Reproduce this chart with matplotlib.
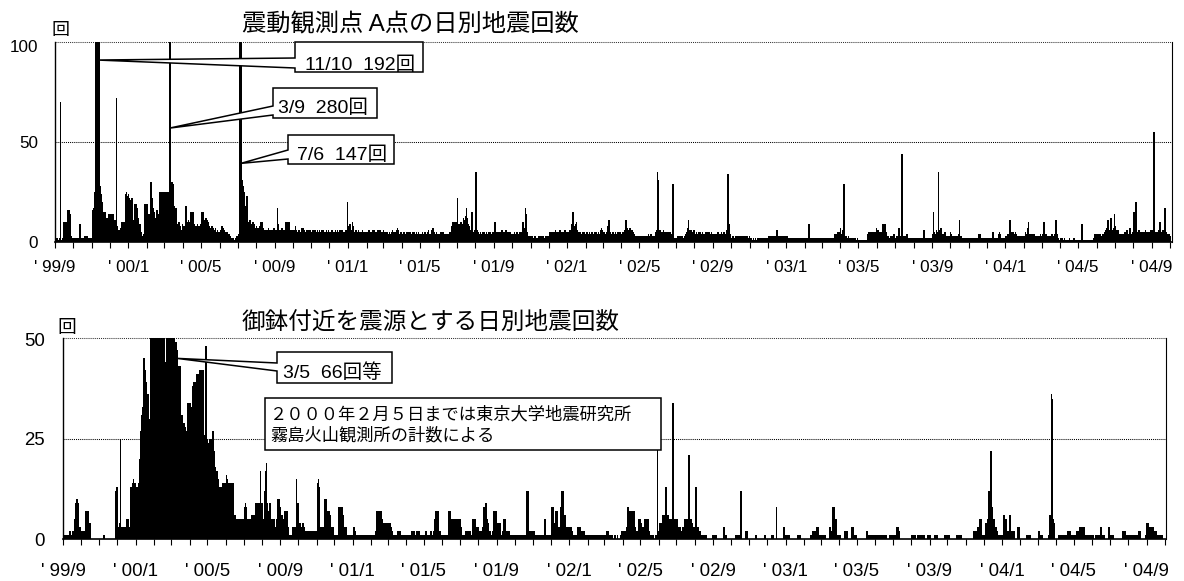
import numpy as np
import pandas as pd
import matplotlib
matplotlib.use("Agg")
import matplotlib.pyplot as plt
import matplotlib.dates as mdates
import matplotlib.transforms as mtransforms
from matplotlib.patches import Polygon, Rectangle
from matplotlib.ticker import FixedLocator, FixedFormatter

plt.rcParams["font.family"] = ["Liberation Sans", "Noto Sans CJK JP"]

# ---------------------------------------------------------------------------
# Daily earthquake counts, one list per month (Sep 1999 - Sep 2004)
# ---------------------------------------------------------------------------

# Station A (震動観測点 A点)
station_a_1999 = [  # Sep - Dec
    [1, 2, 2, 1, 0, 1, 2, 1, 70, 1, 0, 1, 2, 3, 10, 6, 9, 10, 8, 5, 16, 12, 16, 9, 14, 3, 2, 1, 2, 2],
    [2, 1, 2, 1, 2, 1, 2, 1, 2, 1, 9, 1, 2, 1, 2, 2, 1, 2, 1, 3, 3, 2, 3, 2, 2, 1, 2, 1, 2, 1, 2],
    [2, 16, 17, 6, 25, 120, 160, 145, 150, 192, 130, 110, 31, 28, 24, 22, 20, 16, 15, 14, 12, 15, 11, 10, 12, 9, 11, 10, 14, 10],
    [11, 14, 13, 12, 14, 12, 10, 9, 11, 6, 72, 8, 6, 5, 6, 5, 6, 5, 7, 10, 9, 10, 6, 8, 10, 12, 24, 25, 23, 20, 24],
]
station_a_2000 = [
    [22, 20, 21, 16, 12, 22, 10, 9, 11, 19, 18, 13, 19, 17, 8, 12, 10, 8, 9, 4, 3, 5, 3, 2, 3, 4, 3, 19, 18, 12, 19],
    [16, 8, 14, 6, 12, 15, 30, 22, 16, 17, 12, 15, 10, 9, 12, 8, 16, 14, 7, 10, 25, 24, 25, 20, 25, 22, 25, 24, 14],
    [25, 24, 20, 25, 14, 12, 25, 24, 280, 25, 20, 15, 30, 29, 22, 18, 10, 8, 17, 10, 9, 8, 6, 10, 7, 5, 8, 6, 5, 9, 6],
    [5, 8, 6, 9, 18, 12, 10, 7, 11, 9, 6, 10, 15, 14, 8, 15, 12, 7, 9, 6, 8, 5, 7, 9, 6, 8, 5, 4, 7, 9],
    [15, 13, 15, 9, 11, 10, 8, 12, 9, 11, 7, 10, 6, 8, 7, 5, 7, 8, 6, 7, 5, 6, 4, 7, 5, 3, 6, 5, 4, 3, 5],
    [5, 6, 4, 8, 7, 5, 6, 4, 5, 3, 4, 5, 3, 2, 4, 3, 2, 3, 1, 2, 1, 2, 1, 0, 1, 2, 1, 2, 3, 1],
    [2, 4, 52, 101, 112, 147, 31, 30, 28, 25, 24, 18, 15, 14, 23, 22, 10, 9, 8, 11, 7, 9, 6, 8, 10, 5, 9, 6, 7, 5, 8],
    [6, 5, 7, 6, 8, 5, 10, 9, 10, 6, 7, 5, 6, 5, 6, 4, 5, 6, 5, 7, 6, 4, 5, 6, 5, 4, 6, 5, 7, 6, 5],
    [5, 6, 4, 17, 9, 5, 6, 5, 4, 6, 5, 7, 5, 6, 4, 6, 5, 10, 9, 10, 10, 8, 10, 6, 5, 4, 6, 5, 5, 6],
    [4, 5, 6, 8, 5, 6, 5, 4, 5, 6, 4, 5, 5, 7, 6, 7, 7, 4, 6, 5, 5, 4, 6, 5, 6, 4, 5, 6, 5, 4, 5],
    [5, 6, 4, 5, 4, 6, 5, 4, 5, 6, 4, 5, 6, 5, 4, 5, 6, 4, 6, 5, 4, 5, 4, 5, 6, 5, 4, 6, 4, 5],
    [4, 5, 4, 6, 5, 5, 4, 5, 4, 6, 4, 5, 6, 5, 4, 4, 6, 5, 4, 5, 6, 5, 4, 5, 4, 5, 6, 4, 5, 20, 6],
]
station_a_2001 = [
    [8, 9, 7, 9, 6, 5, 10, 8, 6, 5, 4, 5, 6, 4, 5, 4, 6, 5, 4, 5, 3, 5, 4, 6, 4, 5, 4, 3, 5, 4, 5],
    [5, 4, 5, 6, 5, 4, 5, 3, 4, 6, 5, 4, 6, 4, 5, 4, 5, 4, 6, 5, 3, 6, 4, 5, 4, 5, 4, 6],
    [4, 5, 4, 3, 4, 5, 4, 3, 4, 5, 4, 3, 5, 4, 6, 4, 5, 3, 5, 4, 4, 6, 7, 5, 6, 4, 3, 4, 5, 4, 4],
    [3, 4, 5, 4, 3, 4, 5, 4, 5, 4, 5, 3, 5, 4, 3, 4, 5, 4, 3, 5, 4, 3, 4, 5, 3, 4, 5, 3, 4, 4],
    [3, 4, 3, 5, 4, 3, 4, 5, 3, 4, 4, 5, 5, 6, 4, 4, 3, 4, 5, 6, 7, 7, 5, 4, 3, 4, 5, 3, 4, 3, 4],
    [3, 4, 5, 4, 5, 4, 5, 4, 3, 4, 3, 4, 3, 2, 4, 3, 4, 5, 4, 5, 6, 8, 9, 10, 9, 10, 8, 9, 10, 6],
    [22, 8, 5, 9, 6, 8, 10, 6, 9, 8, 12, 9, 11, 13, 10, 17, 12, 9, 8, 8, 7, 6, 5, 11, 15, 9, 5, 5, 4, 6, 5],
    [35, 6, 4, 5, 3, 4, 3, 5, 4, 3, 4, 5, 3, 4, 5, 3, 4, 5, 4, 3, 4, 5, 3, 4, 5, 3, 4, 5, 4, 3, 5],
    [10, 4, 5, 4, 5, 4, 4, 5, 4, 5, 4, 5, 6, 5, 4, 5, 4, 5, 4, 6, 5, 4, 5, 4, 5, 4, 5, 4, 3, 4],
    [4, 3, 4, 5, 4, 3, 4, 5, 4, 3, 4, 5, 4, 3, 5, 4, 6, 10, 8, 7, 5, 17, 14, 6, 5, 3, 2, 3, 2, 3, 2],
    [2, 3, 2, 1, 2, 3, 2, 3, 2, 2, 1, 2, 3, 2, 3, 2, 1, 2, 3, 2, 3, 2, 1, 2, 3, 2, 3, 2, 3, 2],
    [4, 5, 4, 5, 4, 5, 4, 5, 4, 5, 6, 5, 4, 5, 4, 5, 4, 5, 6, 5, 4, 5, 4, 5, 4, 5, 6, 4, 5, 4, 5],
]
station_a_2002 = [
    [5, 4, 5, 6, 5, 4, 7, 9, 15, 12, 8, 6, 7, 9, 10, 6, 5, 4, 5, 3, 4, 5, 4, 4, 5, 3, 4, 5, 4, 3, 4],
    [4, 5, 4, 3, 4, 5, 4, 3, 4, 5, 4, 3, 4, 5, 4, 4, 5, 4, 3, 4, 5, 4, 3, 6, 5, 7, 6, 5],
    [4, 5, 4, 3, 4, 5, 4, 5, 8, 11, 6, 4, 5, 4, 3, 4, 5, 4, 3, 4, 5, 4, 3, 4, 5, 4, 3, 4, 5, 4, 4],
    [4, 5, 4, 5, 6, 5, 4, 11, 6, 7, 6, 5, 6, 7, 6, 5, 6, 6, 5, 4, 3, 4, 3, 2, 3, 2, 3, 3, 2, 3],
    [3, 2, 3, 3, 2, 3, 2, 3, 3, 2, 3, 3, 2, 3, 4, 3, 2, 3, 4, 3, 3, 2, 3, 2, 3, 3, 4, 5, 6, 35, 6],
    [31, 5, 6, 5, 5, 4, 5, 5, 6, 5, 5, 4, 5, 5, 4, 5, 5, 4, 5, 4, 5, 3, 4, 2, 29, 3, 2, 2, 1, 2],
    [2, 2, 3, 2, 3, 2, 2, 3, 2, 2, 3, 2, 2, 3, 2, 3, 4, 5, 6, 7, 11, 5, 6, 4, 5, 6, 5, 4, 5, 6, 4],
    [3, 4, 5, 3, 4, 4, 5, 3, 4, 5, 3, 4, 5, 3, 4, 4, 3, 4, 5, 3, 4, 5, 3, 4, 5, 3, 4, 5, 4, 3, 4],
    [4, 3, 4, 3, 4, 3, 4, 5, 3, 4, 3, 4, 3, 5, 4, 3, 4, 5, 4, 3, 4, 5, 6, 5, 34, 7, 9, 4, 3, 2],
    [2, 3, 2, 3, 2, 2, 3, 2, 3, 2, 3, 2, 3, 2, 3, 2, 2, 3, 2, 2, 3, 2, 3, 3, 2, 2, 3, 2, 2, 3, 1],
    [1, 2, 1, 1, 1, 2, 1, 1, 2, 1, 1, 1, 2, 1, 1, 1, 2, 1, 1, 2, 1, 1, 2, 1, 1, 1, 2, 1, 1, 2],
    [2, 3, 2, 3, 2, 3, 2, 3, 2, 3, 2, 3, 2, 3, 6, 3, 2, 3, 2, 3, 2, 3, 2, 3, 2, 3, 2, 3, 2, 3, 3],
]
station_a_2003 = [
    [3, 2, 1, 2, 2, 1, 2, 2, 1, 2, 2, 1, 2, 2, 1, 1, 2, 1, 2, 1, 2, 2, 1, 2, 1, 2, 1, 2, 1, 2, 2],
    [2, 1, 2, 2, 1, 9, 2, 1, 2, 1, 2, 1, 2, 1, 2, 1, 1, 2, 1, 2, 1, 2, 2, 1, 2, 1, 2, 1],
    [1, 2, 1, 2, 1, 2, 1, 2, 1, 2, 1, 2, 1, 2, 1, 2, 1, 2, 1, 2, 2, 4, 3, 4, 4, 3, 5, 4, 4, 5, 7],
    [3, 4, 5, 6, 4, 29, 3, 2, 2, 3, 2, 2, 3, 2, 2, 1, 2, 1, 2, 1, 1, 2, 1, 1, 2, 1, 1, 2, 1, 1],
    [1, 0, 1, 0, 0, 1, 0, 1, 0, 0, 1, 0, 0, 1, 0, 4, 5, 5, 4, 5, 4, 5, 5, 4, 5, 4, 5, 3, 4, 7, 5],
    [6, 5, 4, 5, 4, 5, 3, 4, 5, 9, 8, 9, 7, 9, 5, 3, 2, 2, 3, 2, 2, 3, 2, 2, 3, 2, 2, 4, 3, 2],
    [2, 3, 2, 3, 2, 7, 6, 3, 2, 3, 44, 3, 2, 3, 2, 3, 2, 3, 4, 4, 2, 1, 2, 2, 1, 2, 1, 2, 1, 2, 2],
    [2, 1, 2, 1, 2, 1, 2, 1, 2, 1, 2, 1, 2, 1, 2, 3, 6, 2, 1, 2, 1, 2, 1, 2, 1, 2, 1, 2, 1, 2, 3],
    [4, 15, 5, 4, 3, 4, 6, 5, 4, 35, 5, 4, 6, 7, 5, 4, 3, 3, 4, 3, 5, 4, 3, 2, 3, 2, 3, 2, 3, 5],
    [4, 3, 2, 3, 2, 3, 2, 3, 2, 3, 2, 3, 2, 4, 11, 3, 2, 3, 2, 1, 2, 1, 2, 1, 2, 1, 2, 1, 2, 1, 2],
    [2, 1, 2, 1, 2, 1, 2, 1, 2, 1, 2, 1, 2, 1, 2, 3, 4, 4, 3, 2, 1, 2, 1, 2, 1, 2, 1, 2, 1, 2],
    [2, 1, 2, 1, 2, 1, 2, 1, 3, 5, 4, 2, 1, 2, 1, 2, 1, 2, 3, 4, 5, 4, 2, 1, 2, 1, 2, 1, 2, 1, 2],
]
station_a_2004 = [  # Jan - Sep
    [3, 2, 3, 4, 3, 4, 11, 8, 4, 5, 4, 5, 4, 3, 4, 5, 3, 4, 3, 2, 3, 2, 3, 2, 3, 2, 3, 2, 3, 2, 3],
    [3, 5, 4, 3, 4, 7, 10, 4, 3, 4, 3, 4, 3, 4, 3, 2, 4, 3, 2, 3, 2, 3, 2, 3, 2, 3, 4, 3, 2],
    [3, 4, 5, 10, 4, 3, 4, 3, 2, 3, 2, 3, 2, 3, 2, 3, 4, 3, 2, 3, 4, 3, 5, 11, 4, 2, 1, 2, 1, 1, 2],
    [1, 1, 2, 1, 1, 1, 2, 1, 1, 1, 0, 1, 1, 1, 2, 1, 1, 0, 1, 1, 1, 1, 2, 1, 1, 0, 1, 1, 1, 1],
    [1, 1, 0, 1, 1, 9, 1, 1, 0, 1, 1, 1, 0, 1, 1, 1, 0, 1, 1, 1, 1, 0, 1, 1, 1, 2, 4, 4, 4, 3, 4],
    [4, 4, 3, 4, 4, 4, 3, 2, 3, 4, 3, 4, 5, 5, 6, 6, 7, 11, 7, 6, 5, 6, 12, 7, 6, 5, 6, 7, 14, 8],
    [5, 4, 6, 5, 6, 5, 4, 3, 4, 3, 4, 3, 4, 3, 4, 5, 4, 5, 6, 6, 4, 3, 4, 5, 7, 4, 3, 4, 5, 5, 6],
    [15, 8, 12, 20, 7, 5, 4, 5, 6, 5, 4, 5, 4, 5, 4, 5, 4, 5, 4, 6, 5, 4, 5, 4, 5, 4, 5, 6, 4, 5, 6],
    [4, 5, 55, 6, 4, 5, 4, 5, 4, 5, 6, 5, 10, 4, 5, 4, 5, 6, 4, 5, 17, 4, 5, 4, 3, 4, 4, 3, 4, 3],
]

# Events located near Ohachi crater (御鉢付近を震源とする地震)
ohachi_1999 = [  # Sep - Dec
    [0, 0, 1, 1, 1, 1, 1, 1, 1, 2, 2, 1, 1, 1, 2, 2, 2, 2, 5, 5, 9, 9, 10, 9, 3, 3, 3, 2, 3, 2],
    [2, 2, 2, 2, 2, 2, 7, 7, 7, 6, 7, 7, 4, 3, 4, 0, 0, 0, 0, 0, 0, 0, 0, 0, 0, 0, 0, 0, 0, 0, 0],
    [0, 0, 0, 0, 0, 0, 1, 1, 0, 0, 0, 0, 0, 0, 0, 0, 0, 0, 0, 0, 0, 0, 0, 0, 0, 0, 0, 12, 13, 3],
    [3, 2, 3, 4, 25, 3, 3, 2, 3, 3, 2, 3, 3, 2, 5, 5, 4, 5, 3, 3, 3, 12, 13, 12, 10, 14, 15, 13, 12, 14, 12],
]
ohachi_2000 = [
    [12, 13, 11, 12, 14, 15, 20, 26, 27, 31, 30, 33, 44, 45, 42, 38, 37, 39, 36, 35, 36, 27, 26, 30, 52, 58, 61, 48, 55, 64, 57],
    [55, 48, 62, 58, 51, 66, 45, 52, 60, 57, 49, 63, 55, 50, 58, 61, 45, 42, 40, 44, 43, 55, 59, 52, 61, 66, 58, 63, 60],
    [62, 58, 64, 60, 66, 48, 46, 49, 47, 44, 43, 42, 38, 43, 36, 31, 30, 27, 31, 28, 29, 24, 28, 22, 27, 3, 20, 34, 33, 30, 34],
    [34, 33, 17, 15, 38, 37, 39, 35, 39, 38, 30, 41, 36, 40, 41, 39, 42, 41, 38, 42, 40, 42, 26, 22, 26, 24, 48, 28, 24, 25],
    [23, 24, 20, 25, 22, 24, 25, 21, 27, 26, 22, 18, 17, 16, 17, 14, 17, 15, 13, 12, 13, 11, 13, 10, 12, 14, 13, 14, 10, 12, 14],
    [16, 15, 14, 13, 14, 12, 14, 11, 13, 14, 12, 14, 6, 5, 6, 4, 5, 5, 4, 5, 3, 5, 4, 5, 3, 5, 4, 5, 3, 5],
    [6, 8, 9, 8, 5, 4, 5, 5, 4, 5, 3, 5, 6, 6, 5, 6, 6, 5, 6, 4, 9, 8, 9, 8, 9, 6, 9, 17, 9, 6, 9],
    [5, 3, 5, 9, 12, 17, 19, 9, 7, 5, 7, 6, 9, 8, 5, 4, 5, 3, 5, 4, 5, 3, 2, 3, 5, 8, 10, 9, 10, 8, 5],
    [5, 6, 4, 5, 3, 5, 2, 7, 6, 7, 5, 7, 3, 1, 1, 1, 0, 1, 1, 1, 3, 3, 3, 2, 3, 1, 15, 9, 3, 9],
    [3, 3, 4, 3, 3, 3, 3, 4, 2, 3, 2, 2, 2, 1, 2, 2, 1, 2, 2, 2, 1, 1, 2, 1, 1, 2, 1, 1, 2, 1, 2],
    [12, 14, 15, 13, 6, 3, 3, 2, 3, 3, 2, 3, 9, 10, 8, 10, 6, 7, 7, 5, 7, 6, 3, 3, 2, 3, 3, 2, 1, 1],
    [1, 1, 0, 1, 1, 1, 3, 8, 6, 8, 7, 5, 8, 6, 3, 3, 2, 3, 3, 1, 1, 1, 0, 1, 1, 1, 0, 1, 1, 1, 1],
]
ohachi_2001 = [
    [1, 3, 3, 2, 1, 1, 1, 1, 0, 1, 1, 1, 1, 1, 1, 0, 1, 1, 1, 1, 1, 1, 1, 1, 1, 0, 1, 1, 1, 1, 1],
    [1, 1, 1, 1, 1, 0, 1, 2, 7, 6, 7, 5, 7, 6, 4, 7, 5, 5, 3, 2, 4, 3, 4, 3, 4, 4, 2, 4],
    [4, 3, 4, 4, 3, 2, 2, 1, 1, 1, 1, 1, 0, 1, 1, 1, 2, 2, 2, 1, 2, 1, 1, 0, 1, 1, 0, 1, 1, 0, 1],
    [1, 0, 1, 1, 1, 0, 1, 1, 2, 2, 2, 1, 2, 1, 1, 1, 2, 2, 1, 2, 2, 1, 1, 0, 1, 1, 0, 1, 1, 1],
    [1, 1, 2, 1, 1, 1, 0, 1, 1, 1, 1, 2, 1, 1, 1, 2, 1, 5, 4, 7, 6, 7, 5, 7, 2, 2, 2, 1, 0, 1, 1],
    [1, 1, 0, 1, 1, 1, 1, 1, 1, 1, 7, 6, 7, 5, 4, 5, 5, 5, 4, 5, 5, 5, 4, 5, 4, 5, 5, 4, 3, 5],
    [3, 2, 1, 1, 1, 1, 1, 0, 2, 2, 2, 1, 2, 2, 2, 2, 1, 1, 1, 0, 1, 5, 4, 5, 5, 3, 3, 2, 3, 3, 2],
    [2, 2, 1, 2, 2, 2, 3, 8, 6, 8, 7, 9, 8, 5, 4, 4, 3, 2, 2, 2, 1, 1, 1, 2, 7, 6, 7, 5, 7, 6, 3],
    [4, 3, 4, 3, 4, 2, 1, 1, 2, 1, 5, 4, 5, 5, 2, 2, 2, 1, 2, 2, 1, 1, 1, 1, 0, 1, 1, 1, 0, 1],
    [1, 0, 0, 1, 1, 1, 1, 1, 1, 1, 0, 0, 1, 0, 0, 1, 1, 0, 0, 1, 12, 10, 12, 2, 2, 1, 2, 2, 2, 1, 2],
    [2, 2, 1, 1, 1, 1, 1, 1, 1, 1, 1, 1, 0, 0, 1, 0, 0, 1, 0, 5, 4, 1, 1, 1, 1, 0, 1, 1, 1, 0],
    [2, 8, 7, 8, 4, 3, 4, 7, 6, 7, 5, 3, 3, 3, 2, 3, 8, 12, 11, 12, 6, 6, 5, 6, 3, 3, 2, 3, 3, 2, 3],
]
ohachi_2002 = [
    [3, 3, 3, 2, 1, 1, 1, 1, 1, 1, 1, 0, 1, 3, 3, 3, 3, 3, 2, 2, 2, 2, 2, 2, 2, 1, 1, 1, 0, 1, 1],
    [1, 1, 0, 1, 1, 1, 0, 1, 1, 1, 1, 0, 1, 1, 1, 1, 1, 0, 1, 1, 1, 0, 0, 1, 1, 0, 1, 1],
    [0, 1, 1, 2, 2, 2, 1, 1, 1, 1, 1, 1, 1, 1, 0, 0, 0, 1, 0, 0, 0, 1, 0, 0, 0, 0, 0, 1, 2, 2, 2],
    [2, 2, 1, 1, 1, 2, 3, 8, 7, 8, 7, 6, 7, 7, 7, 6, 7, 7, 6, 7, 3, 2, 2, 2, 2, 2, 5, 5, 4, 5],
    [4, 3, 3, 3, 3, 3, 3, 5, 5, 4, 5, 5, 5, 2, 1, 1, 1, 1, 1, 1, 1, 0, 0, 0, 1, 0, 0, 1, 30, 0, 2],
    [3, 4, 3, 4, 3, 5, 6, 6, 5, 6, 5, 13, 6, 5, 6, 6, 5, 5, 5, 4, 5, 4, 5, 34, 5, 4, 5, 5, 4, 5],
    [5, 3, 3, 3, 3, 3, 2, 1, 2, 3, 3, 3, 3, 5, 5, 5, 5, 4, 4, 5, 21, 5, 5, 5, 5, 4, 2, 3, 3, 2, 3],
    [3, 13, 3, 3, 3, 2, 2, 2, 1, 1, 1, 1, 1, 1, 1, 1, 1, 1, 0, 0, 0, 0, 0, 0, 0, 0, 0, 0, 0, 1, 1],
    [1, 1, 1, 1, 1, 0, 0, 0, 0, 0, 0, 0, 0, 0, 0, 0, 1, 3, 1, 1, 1, 1, 0, 0, 0, 0, 0, 0, 0, 0],
    [0, 0, 0, 0, 0, 0, 0, 1, 1, 1, 1, 1, 1, 0, 0, 12, 0, 0, 0, 0, 0, 0, 0, 2, 2, 2, 2, 0, 0, 0, 0],
    [0, 0, 0, 0, 0, 0, 0, 0, 0, 0, 1, 0, 0, 0, 0, 0, 0, 0, 0, 0, 0, 0, 0, 0, 0, 1, 0, 0, 0, 0],
    [0, 0, 0, 0, 0, 0, 0, 1, 1, 0, 0, 0, 0, 0, 8, 0, 0, 0, 0, 0, 0, 0, 0, 0, 0, 0, 0, 3, 3, 1, 1],
]
ohachi_2003 = [
    [1, 1, 1, 1, 1, 1, 0, 0, 0, 0, 0, 0, 0, 0, 0, 0, 0, 0, 0, 0, 1, 1, 1, 1, 0, 0, 0, 0, 0, 0, 0],
    [0, 0, 0, 0, 0, 0, 0, 0, 0, 0, 0, 1, 1, 1, 2, 2, 2, 1, 2, 1, 1, 3, 3, 3, 1, 1, 1, 1],
    [1, 1, 1, 1, 1, 1, 1, 0, 0, 0, 0, 0, 0, 0, 3, 3, 1, 1, 2, 3, 8, 8, 5, 5, 2, 5, 1, 1, 1, 1, 1],
    [1, 0, 0, 0, 0, 0, 0, 0, 0, 2, 2, 2, 2, 2, 0, 0, 0, 0, 0, 0, 0, 3, 3, 1, 1, 1, 1, 1, 0, 0],
    [0, 0, 0, 0, 0, 0, 0, 0, 0, 0, 0, 0, 0, 0, 0, 2, 2, 1, 1, 1, 1, 0, 1, 1, 1, 1, 0, 1, 1, 1, 1],
    [1, 1, 0, 1, 1, 1, 1, 0, 1, 1, 1, 1, 1, 0, 1, 1, 1, 1, 0, 0, 0, 0, 0, 1, 1, 0, 0, 1, 1, 1],
    [1, 1, 1, 0, 0, 0, 3, 3, 2, 2, 2, 0, 0, 0, 0, 0, 0, 0, 0, 0, 0, 0, 0, 0, 0, 0, 0, 0, 0, 0, 0],
    [1, 1, 1, 1, 1, 1, 0, 0, 0, 1, 1, 1, 1, 1, 0, 0, 0, 1, 1, 1, 1, 1, 0, 0, 0, 0, 1, 1, 1, 1, 1],
    [0, 0, 0, 0, 0, 0, 0, 1, 1, 1, 1, 1, 1, 0, 0, 0, 0, 0, 0, 0, 0, 0, 0, 0, 1, 1, 1, 1, 1, 1],
    [1, 1, 1, 0, 0, 0, 0, 0, 0, 0, 0, 0, 0, 0, 0, 1, 1, 1, 1, 1, 1, 1, 1, 0, 0, 0, 0, 0, 0, 0, 0],
    [0, 0, 0, 0, 0, 0, 0, 0, 0, 0, 0, 0, 2, 2, 2, 2, 2, 2, 3, 3, 3, 3, 5, 5, 4, 5, 1, 1, 1, 1],
    [1, 1, 1, 4, 4, 2, 5, 12, 11, 12, 21, 22, 22, 8, 5, 5, 4, 5, 3, 3, 3, 2, 2, 1, 1, 1, 1, 1, 1, 1, 1],
]
ohachi_2004 = [  # Jan - Sep
    [1, 1, 6, 6, 5, 5, 2, 2, 2, 2, 2, 6, 6, 6, 2, 2, 2, 2, 2, 2, 0, 0, 0, 0, 0, 0, 3, 3, 0, 0, 0],
    [0, 0, 0, 0, 0, 0, 0, 0, 0, 1, 1, 1, 1, 1, 1, 1, 0, 0, 0, 0, 0, 0, 0, 0, 0, 0, 0, 0, 0],
    [2, 2, 1, 1, 1, 1, 1, 1, 0, 0, 0, 0, 0, 0, 0, 0, 0, 0, 1, 6, 6, 2, 36, 35, 5, 5, 4, 0, 0, 0, 0],
    [0, 0, 0, 0, 1, 1, 1, 1, 1, 1, 1, 1, 1, 1, 1, 1, 1, 1, 2, 2, 2, 2, 2, 1, 1, 1, 1, 1, 1, 1],
    [1, 1, 1, 2, 2, 2, 2, 2, 2, 3, 3, 3, 3, 3, 3, 2, 3, 3, 1, 1, 1, 1, 1, 1, 1, 1, 1, 1, 1, 1, 1],
    [1, 1, 0, 0, 0, 1, 1, 1, 1, 1, 1, 1, 1, 1, 3, 1, 1, 1, 1, 1, 0, 0, 0, 0, 0, 0, 0, 3, 1, 1],
    [1, 1, 1, 1, 1, 0, 0, 0, 0, 0, 0, 0, 0, 0, 0, 0, 0, 0, 0, 0, 0, 2, 2, 2, 2, 1, 1, 1, 1, 1, 1],
    [1, 1, 1, 1, 1, 1, 1, 1, 1, 1, 1, 1, 1, 1, 0, 0, 0, 2, 2, 2, 0, 0, 0, 0, 0, 0, 0, 0, 1, 4, 4],
    [3, 4, 3, 3, 3, 3, 2, 3, 3, 3, 3, 2, 2, 2, 2, 2, 1, 1, 1, 1, 1, 1, 1, 1, 1, 0, 0, 0, 0, 0],
]

# Month labels shown on the time axis
label_months = [1, 5, 9]


def daily_series(blocks):
    """Turn (year, first month, month lists) blocks into dates and counts."""
    dates, counts = [], []
    for year, first_month, months in blocks:
        for i, vals in enumerate(months):
            start = pd.Timestamp(year=year, month=first_month + i, day=1)
            if len(vals) != start.days_in_month:
                raise ValueError(f"{start:%Y-%m}: {len(vals)} values")
            dates.extend(pd.date_range(start, periods=len(vals), freq="D"))
            counts.extend(vals)
    return pd.DatetimeIndex(dates), np.asarray(counts, dtype=float)


a_dates, a_counts = daily_series([
    (1999, 9, station_a_1999), (2000, 1, station_a_2000), (2001, 1, station_a_2001),
    (2002, 1, station_a_2002), (2003, 1, station_a_2003), (2004, 1, station_a_2004),
])
o_dates, o_counts = daily_series([
    (1999, 9, ohachi_1999), (2000, 1, ohachi_2000), (2001, 1, ohachi_2001),
    (2002, 1, ohachi_2002), (2003, 1, ohachi_2003), (2004, 1, ohachi_2004),
])

# ---------------------------------------------------------------------------
W, H = 1184, 581
fig = plt.figure(figsize=(W / 100, H / 100), dpi=100)
fig.patch.set_facecolor("white")

START = pd.Timestamp("1999-09-01")
DOT = (0, (1, 1))


def frac(x, y):
    return x / W, 1 - y / H


def panel(box, dates, counts, ymax, grid_y, span_days, tick_fs, ypad, xpad, top_label_drop):
    left, top, right, bottom = box
    ax = fig.add_axes([left / W, 1 - bottom / H, (right - left) / W, (bottom - top) / H])
    x = mdates.date2num(dates)
    ax.bar(x, counts, width=1.0, align="edge", color="black", edgecolor="black",
           linewidth=0.6, antialiased=False, zorder=2)
    x0 = mdates.date2num(START)
    ax.set_xlim(x0, x0 + span_days)
    ax.set_ylim(0, ymax)

    months = pd.date_range(START, START + pd.Timedelta(days=span_days), freq="MS")
    ax.xaxis.set_major_locator(FixedLocator(mdates.date2num(months)))
    ax.xaxis.set_major_formatter(FixedFormatter(
        [f"' {m:%y}/{m.month}" if m.month in label_months else "" for m in months]))
    ax.tick_params(axis="x", direction="out", length=4.3, width=0.8, pad=xpad,
                   labelsize=tick_fs, color="black")
    ax.set_yticks([0, grid_y, ymax])
    ax.tick_params(axis="y", length=0, pad=ypad, labelsize=tick_fs)
    # the top value label sits a little below the frame line
    top_tick = ax.yaxis.get_major_ticks()[2]
    top_tick.label1.set_transform(top_tick.label1.get_transform() + mtransforms.ScaledTranslation(
        0, -top_label_drop / 100, fig.dpi_scale_trans))

    for s in ("left", "bottom", "right"):
        ax.spines[s].set_color("black")
    ax.spines["left"].set_linewidth(1.0)
    ax.spines["bottom"].set_linewidth(1.2)
    ax.spines["right"].set_linewidth(0.8)
    ax.spines["top"].set_visible(False)
    ax.axhline(grid_y, color="black", linewidth=0.75, linestyle=DOT, zorder=1)
    ax.axhline(ymax, color="#333333", linewidth=0.75, linestyle=DOT, zorder=1, clip_on=False)
    return ax


ax_a = panel((55, 42, 1172, 242.3), a_dates, a_counts, 100, 50, 1860.3, 12.3, 12, 8.3, 4)
ax_o = panel((63.3, 338.3, 1165.7, 539), o_dates, o_counts, 50, 25, 1859, 13.4, 13, 13.0, 1.5)


def callout(ax, box, notch, tip, text, fs, text_x, baseline):
    x0, y0, x1, y1 = box
    ya, yb = notch
    tip_disp = ax.transData.transform((mdates.date2num(pd.Timestamp(tip[0])) + 0.5, tip[1]))
    tip_fig = fig.transFigure.inverted().transform(tip_disp)
    verts = [frac(x0, y0), frac(x1, y0), frac(x1, y1), frac(x0, y1), frac(x0, yb),
             tuple(tip_fig), frac(x0, ya)]
    fig.add_artist(Polygon(verts, closed=True, facecolor="white", edgecolor="black",
                           linewidth=1.1, transform=fig.transFigure, zorder=5))
    fig.text(*frac(text_x, baseline), text, fontsize=fs, ha="left", va="baseline", zorder=6)


callout(ax_a, (295, 42, 423, 72), (58, 68), ("1999-11-10", 91), "11/10  192回", 14, 305, 70)
callout(ax_a, (273, 88, 377, 118), (106, 115), ("2000-03-09", 57), "3/9  280回", 14, 278.5, 113)
callout(ax_a, (288, 135, 394, 164), (150, 159), ("2000-07-06", 39.4), "7/6  147回", 14, 297, 160)
callout(ax_o, (277, 352, 392, 383), (363, 371), ("2000-03-10", 45), "3/5  66回等", 14, 283, 378)

# note about the data source before Feb 2000
nx0, ny0, nx1, ny1 = 265, 398, 661, 450
fig.add_artist(Rectangle(frac(nx0, ny1), (nx1 - nx0) / W, (ny1 - ny0) / H,
                         facecolor="white", edgecolor="black", linewidth=1.1,
                         transform=fig.transFigure, zorder=5))
fig.text(*frac(270, 419), "２０００年２月５日までは東京大学地震研究所", fontsize=12.45,
         ha="left", va="baseline", zorder=6)
fig.text(*frac(270, 440), "霧島火山観測所の計数による", fontsize=12.45,
         ha="left", va="baseline", zorder=6)

# titles and unit labels
fig.text(*frac(410, 24.5), "震動観測点 A点の日別地震回数", fontsize=17.5, ha="center", va="center")
fig.text(*frac(431, 323), "御鉢付近を震源とする日別地震回数", fontsize=17, ha="center", va="center")
fig.text(*frac(61, 30), "回", fontsize=13, ha="center", va="center")
fig.text(*frac(67, 329), "回", fontsize=13.5, ha="center", va="center")

fig.savefig("out.png", dpi=100, facecolor="white")
